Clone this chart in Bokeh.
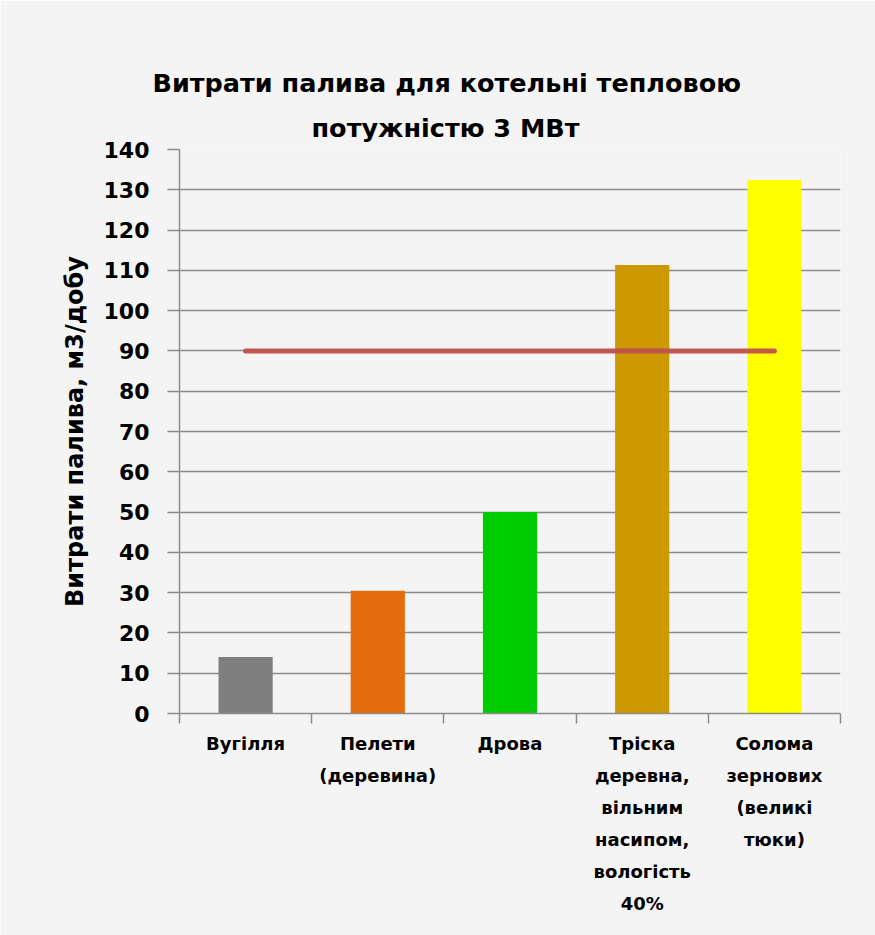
from bokeh.plotting import figure
from bokeh.models import Range1d, LinearAxis, FixedTicker, Title
from bokeh.embed import file_html
from bokeh.resources import INLINE

categories = ["Вугілля", "Пелети (деревина)", "Дрова",
              "Тріска деревна, вільним насипом, вологість 40%",
              "Солома зернових (великі тюки)"]
wrapped_labels = ["Вугілля", "Пелети\n(деревина)", "Дрова",
                  "Тріска\nдеревна,\nвільним\nнасипом,\nвологість\n40%",
                  "Солома\nзернових\n(великі\nтюки)"]
fuel_use = [14, 30.5, 50, 111.3, 132.4]
limit_line = [90, 90, 90, 90, 90]
bar_colors = ["#7f7f7f", "#e46c0a", "#00cc00", "#cc9900", "#ffff00"]
y_ticks = list(range(0, 141, 10))
title_lines = ["Витрати палива для  котельні тепловою", "потужністю 3 МВт"]
y_label = "Витрати палива, м3/добу"

FONT = "DejaVu Sans"
BG = "#f4f4f4"
GRID = "#8c8c8c"

n = len(categories)
centers = [i + 0.5 for i in range(n)]
edges = list(range(n + 1))

p = figure(width=875, height=935,
           x_range=Range1d(0, n), y_range=Range1d(0, 140),
           x_axis_location=None, y_axis_location=None,
           output_backend="svg", toolbar_location=None,
           min_border_left=179, min_border_right=35,
           min_border_top=149, min_border_bottom=222)
p.background_fill_color = BG
p.border_fill_color = BG
p.outline_line_color = None
p.title.visible = False

# spacer between plot frame and title lines (tick lines in background colour)
spacer = LinearAxis(ticker=FixedTicker(ticks=[]))
spacer.axis_line_color = None
spacer.major_tick_line_color = BG
spacer.minor_tick_line_color = None
spacer.major_tick_out = 33
spacer.major_tick_in = 0
spacer.minor_tick_out = 0
spacer.major_label_standoff = 0
p.add_layout(spacer, "above")

# two title lines (first added sits closest to the plot), centred on the chart area
t2 = Title(text=title_lines[1], align="left", offset=132, standoff=13,
           text_font=FONT, text_font_style="bold", text_font_size="25.5px",
           text_color="black")
t1 = Title(text=title_lines[0], align="left", offset=-27, standoff=13,
           text_font=FONT, text_font_style="bold", text_font_size="25.5px",
           text_color="black")
p.add_layout(t2, "above")
p.add_layout(t1, "above")

# y axis
yax = LinearAxis(ticker=FixedTicker(ticks=y_ticks))
yax.axis_label = y_label
yax.axis_label_text_font = FONT
yax.axis_label_text_font_style = "bold"
yax.axis_label_text_font_size = "24px"
yax.axis_label_text_color = "black"
yax.axis_label_standoff = 12
yax.major_label_text_font = FONT
yax.major_label_text_font_style = "bold"
yax.major_label_text_font_size = "22px"
yax.major_label_text_color = "black"
yax.major_label_standoff = 18
yax.axis_line_color = GRID
yax.axis_line_width = 1.5
yax.major_tick_line_color = GRID
yax.major_tick_line_width = 1.5
yax.major_tick_out = 12
yax.major_tick_in = 0
yax.minor_tick_line_color = None
p.add_layout(yax, "left")

# x axis: labels at category centres, tick marks at category boundaries
xcat = LinearAxis(ticker=FixedTicker(ticks=centers, minor_ticks=edges))
xcat.major_label_overrides = dict(zip(centers, wrapped_labels))
xcat.major_label_text_font = FONT
xcat.major_label_text_font_style = "bold"
xcat.major_label_text_font_size = "18px"
xcat.major_label_text_line_height = 1.53
xcat.major_label_text_color = "black"
xcat.major_label_standoff = 9
xcat.axis_line_color = GRID
xcat.axis_line_width = 1.5
xcat.major_tick_line_color = None
xcat.major_tick_out = 10
xcat.major_tick_in = 0
xcat.minor_tick_line_color = GRID
xcat.minor_tick_line_width = 1.5
xcat.minor_tick_out = 10
xcat.minor_tick_in = 0
p.add_layout(xcat, "below")

p.ygrid.ticker = FixedTicker(ticks=y_ticks)
p.ygrid.grid_line_color = GRID
p.ygrid.grid_line_width = 1.5
p.xgrid.grid_line_color = None

p.vbar(x=centers, top=fuel_use, width=0.41, color=bar_colors, line_color=None)
p.line(x=centers, y=limit_line, line_color="#c0504d", line_width=5,
       line_cap="round", line_alpha=0.95)

open("out.html", "w").write(file_html(p, INLINE))
